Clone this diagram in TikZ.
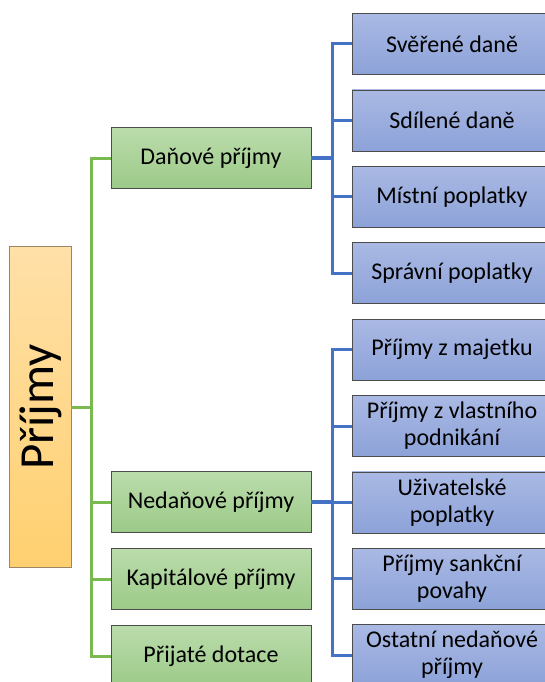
\documentclass[tikz,border=0pt]{standalone}
\usepackage{fontspec}
\setmainfont{Carlito}
\usetikzlibrary{positioning}
\definecolor{rootTop}{RGB}{255, 224, 168}
\definecolor{rootBottom}{RGB}{255, 208, 112}
\definecolor{greenTop}{RGB}{187, 220, 172}
\definecolor{greenBottom}{RGB}{156, 202, 136}
\definecolor{blueTop}{RGB}{170, 185, 228}
\definecolor{blueBottom}{RGB}{140, 162, 216}
\definecolor{greenLine}{RGB}{122, 184, 80}
\definecolor{blueLine}{RGB}{68, 114, 196}

\begin{document}
\begin{tikzpicture}[
    x = 1pt, y = -1pt,
    root/.style = {draw=rootTop!60!black, semithick, top color=rootTop,
        bottom color=rootBottom, minimum width=321pt, minimum height=62pt,
        rotate=90, font=\fontsize{49}{52}\selectfont, inner sep=0pt,
        text height=36pt, text depth=10pt},
    main/.style = {draw=gray!60!black, semithick, top color=greenTop,
        bottom color=greenBottom, minimum width=200pt, minimum height=61pt,
        font=\fontsize{24}{27}\selectfont, inner sep=0pt},
    sub/.style = {draw=gray!60!black, semithick, top color=blueTop,
        bottom color=blueBottom, minimum width=200pt, minimum height=61pt,
        align=center, font=\fontsize{24}{27}\selectfont, inner sep=0pt},
    gline/.style = {draw=greenLine, line width=3pt},
    bline/.style = {draw=blueLine, line width=3pt}
  ]
  \useasboundingbox (0,0) rectangle (544,682);

  \node[root] (root) at (40,407) {Příjmy};

  \node[main] (dan) at (211,158) {Daňové příjmy};
  \node[main] (ned) at (211,502) {Nedaňové příjmy};
  \node[main] (kap) at (211,579) {Kapitálové příjmy};
  \node[main] (dot) at (211,656) {Přijaté dotace};

  \foreach \t [count=\i from 0] in {Svěřené daně, Sdílené daně,
      Místní poplatky, Správní poplatky, Příjmy z majetku,
      Příjmy z vlastního\\podnikání, Uživatelské\\poplatky,
      Příjmy sankční\\povahy, Ostatní nedaňové\\příjmy}
    \node[sub] (s\i) at (452,44+76.4*\i) {\t};

  % green tree
  \foreach \n in {dan, ned, kap, dot}
    \draw[gline] (root.south) -- ++(20,0) |- (\n.west);

  % blue trees
  \draw[bline, line width=4pt] (dan.east) -- ++(21,0);
  \foreach \i in {0,...,3}
    \draw[bline] (dan.east) ++(21,0) |- (s\i.west);
  \draw[bline, line width=4pt] (ned.east) -- ++(21,0);
  \foreach \i in {4,...,8}
    \draw[bline] (ned.east) ++(21,0) |- (s\i.west);
\end{tikzpicture}
\end{document}
